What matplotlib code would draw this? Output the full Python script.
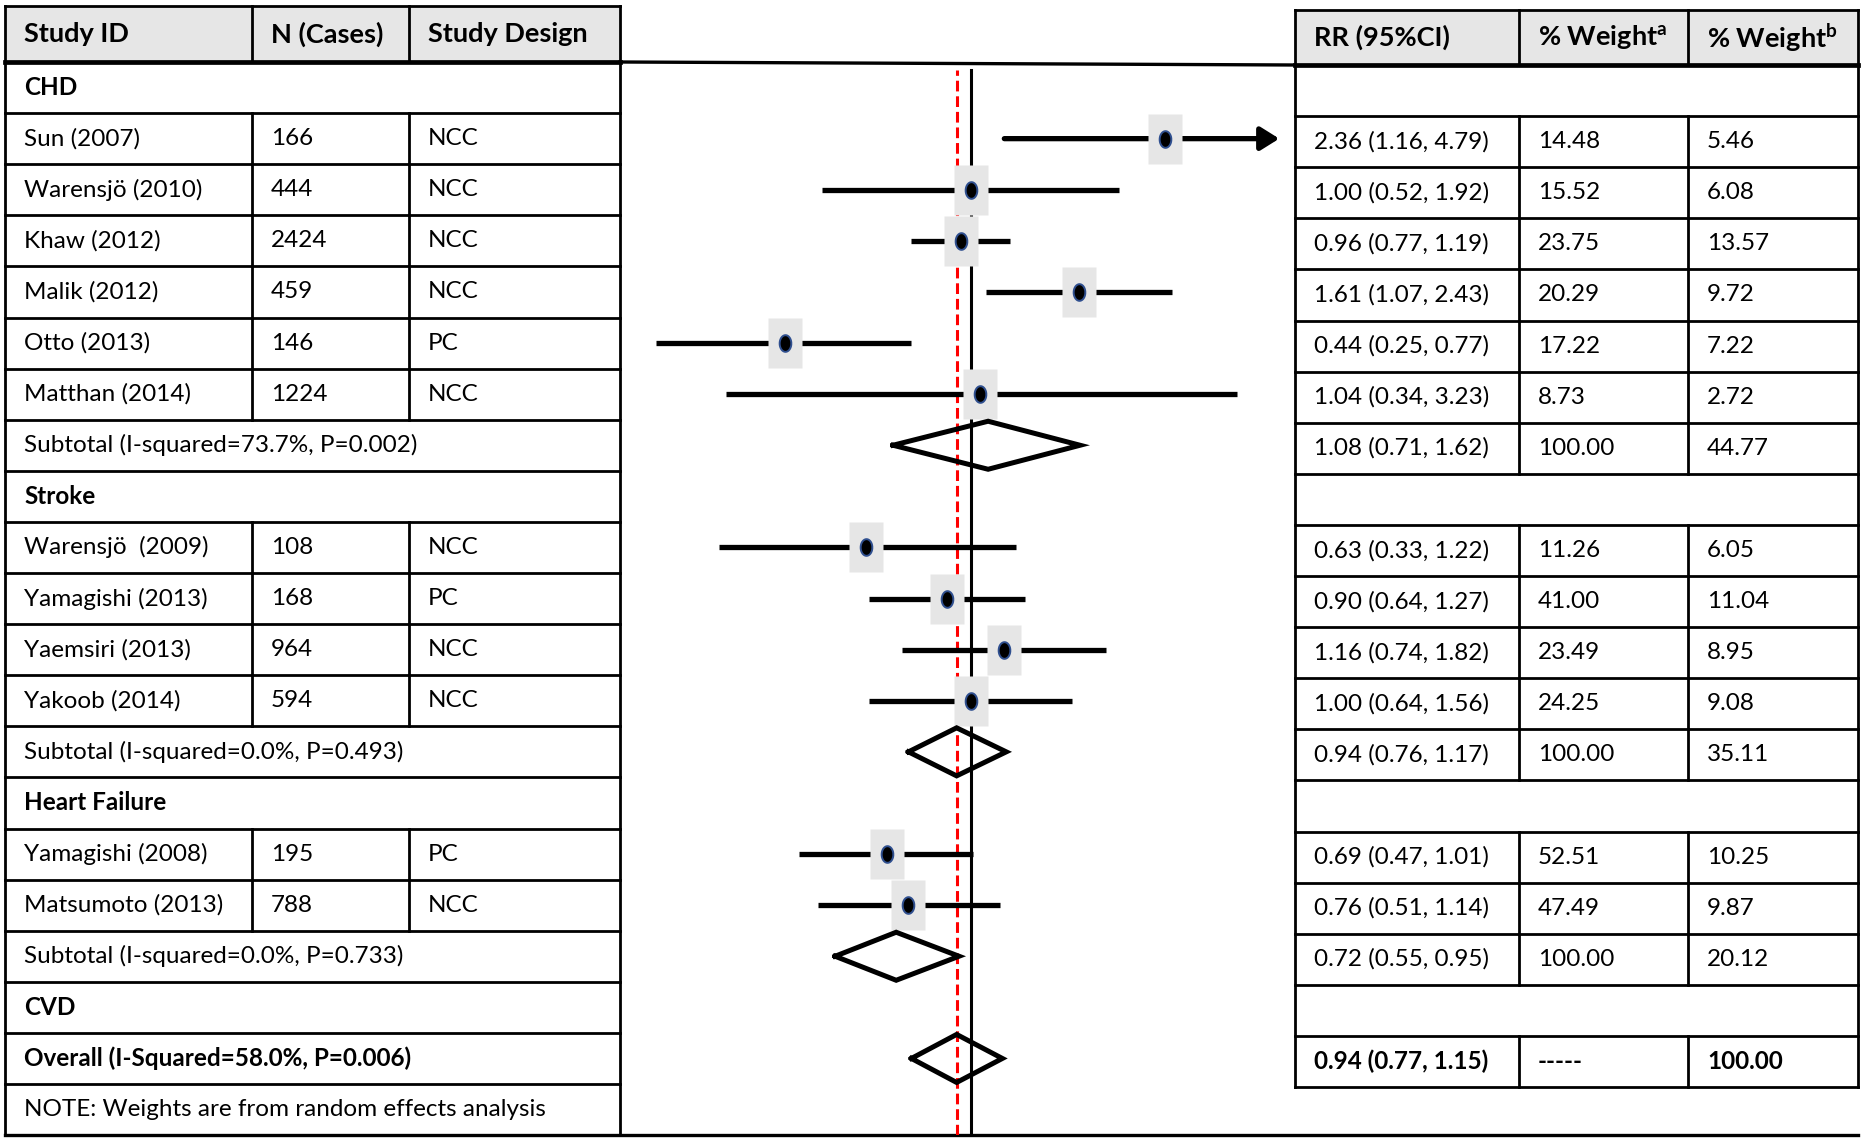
import numpy as np
import matplotlib.pyplot as plt
from matplotlib.patches import Rectangle

plt.rcParams['font.family'] = ['Lato', 'DejaVu Sans']
plt.rcParams['mathtext.fontset'] = 'custom'
plt.rcParams['mathtext.bf'] = 'Lato:bold'
plt.rcParams['mathtext.rm'] = 'Lato'

# ---- data ----
groups = ['CHD', 'Stroke', 'Heart Failure']
group_sizes = [6, 4, 2]

study_ids = ['Sun (2007)', 'Warensjö (2010)', 'Khaw (2012)', 'Malik (2012)',
             'Otto (2013)', 'Matthan (2014)',
             'Warensjö  (2009)', 'Yamagishi (2013)', 'Yaemsiri (2013)', 'Yakoob (2014)',
             'Yamagishi (2008)', 'Matsumoto (2013)']
n_cases = [166, 444, 2424, 459, 146, 1224, 108, 168, 964, 594, 195, 788]
designs = ['NCC', 'NCC', 'NCC', 'NCC', 'PC', 'NCC', 'NCC', 'PC', 'NCC', 'NCC', 'PC', 'NCC']
rr = [2.36, 1.00, 0.96, 1.61, 0.44, 1.04, 0.63, 0.90, 1.16, 1.00, 0.69, 0.76]
ci_lo = [1.16, 0.52, 0.77, 1.07, 0.25, 0.34, 0.33, 0.64, 0.74, 0.64, 0.47, 0.51]
ci_hi = [4.79, 1.92, 1.19, 2.43, 0.77, 3.23, 1.22, 1.27, 1.82, 1.56, 1.01, 1.14]
weight_a = [14.48, 15.52, 23.75, 20.29, 17.22, 8.73, 11.26, 41.00, 23.49, 24.25, 52.51, 47.49]
weight_b = [5.46, 6.08, 13.57, 9.72, 7.22, 2.72, 6.05, 11.04, 8.95, 9.08, 10.25, 9.87]

subtotal_labels = ['Subtotal (I-squared=73.7%, P=0.002)',
                   'Subtotal (I-squared=0.0%, P=0.493)',
                   'Subtotal (I-squared=0.0%, P=0.733)']
sub_rr = [1.08, 0.94, 0.72]
sub_lo = [0.71, 0.76, 0.55]
sub_hi = [1.62, 1.17, 0.95]
sub_weight_a = [100.00, 100.00, 100.00]
sub_weight_b = [44.77, 35.11, 20.12]

overall_group = 'CVD'
overall_label = 'Overall (I-Squared=58.0%, P=0.006)'
overall_rr, overall_lo, overall_hi = 0.94, 0.77, 1.15
overall_weight_a = '-----'
overall_weight_b = 100.00
note = 'NOTE: Weights are from random effects analysis'

left_headers = ['Study ID', 'N (Cases)', 'Study Design']
right_headers = ['RR (95%CI)', '% Weight$^{\\mathbf{a}}$', '% Weight$^{\\mathbf{b}}$']

# ---- layout (pixels) ----
W, H = 1865, 1139
LX = [5, 252, 409, 620]
L_TOP, L_HEAD = 6, 62
RX = [1295, 1519, 1688, 1858]
R_TOP, R_HEAD = 10, 65
ROW = 51.1
PAD = 19
FS = 17.5
FS_HEAD = 19.5
LW = 2.0
HEAD_FILL = '#e6e6e6'


def fmt_ci(e, l, h):
    return f'{e:.2f} ({l:.2f}, {h:.2f})'


# row order shared by both tables and the plot
rows = []
k = 0
for g, name in enumerate(groups):
    rows.append(('group', name))
    for _ in range(group_sizes[g]):
        rows.append(('study', k))
        k += 1
    rows.append(('subtotal', g))
rows.append(('group', overall_group))
rows.append(('overall', None))
left_rows = rows + [('note', None)]

fig = plt.figure(figsize=(W / 100, H / 100), dpi=100)
tab = fig.add_axes([0, 0, 1, 1])
tab.set_xlim(0, W)
tab.set_ylim(H, 0)
tab.axis('off')


def hline(x0, x1, y, w=LW):
    tab.plot([x0, x1], [y, y], color='black', lw=w, solid_capstyle='projecting')


def vline(x, y0, y1, w=LW):
    tab.plot([x, x], [y0, y1], color='black', lw=w, solid_capstyle='projecting')


def cell_text(x, y, s, bold=False, size=FS):
    tab.text(x, y, s, fontsize=size, va='center', ha='left',
             fontweight='bold' if bold else 'normal', color='black')


# ---- left table ----
L_BOT = L_HEAD + len(left_rows) * ROW
tab.add_patch(Rectangle((LX[0], L_TOP), LX[3] - LX[0], L_HEAD - L_TOP, color=HEAD_FILL, lw=0))
for c, h in enumerate(left_headers):
    cell_text(LX[c] + PAD, (L_TOP + L_HEAD) / 2, h, bold=True, size=FS_HEAD)
vline(LX[1], L_TOP, L_HEAD)
vline(LX[2], L_TOP, L_HEAD)

for i, (kind, p) in enumerate(left_rows):
    y0 = L_HEAD + i * ROW
    yc = y0 + ROW / 2
    if kind == 'group':
        cell_text(LX[0] + PAD, yc, p, bold=True)
    elif kind == 'study':
        cell_text(LX[0] + PAD, yc, study_ids[p])
        cell_text(LX[1] + PAD, yc, str(n_cases[p]))
        cell_text(LX[2] + PAD, yc, designs[p])
        vline(LX[1], y0, y0 + ROW)
        vline(LX[2], y0, y0 + ROW)
    elif kind == 'subtotal':
        cell_text(LX[0] + PAD, yc, subtotal_labels[p])
    elif kind == 'overall':
        cell_text(LX[0] + PAD, yc, overall_label, bold=True)
    else:
        cell_text(LX[0] + PAD, yc, note)
    hline(LX[0], LX[3], y0 + ROW)

hline(LX[0], LX[3], L_TOP)
vline(LX[0], L_TOP, L_BOT)
vline(LX[3], L_TOP, L_BOT)
hline(LX[0], LX[3], L_HEAD, w=3.4)

# ---- right table ----
R_BOT = R_HEAD + len(rows) * ROW
tab.add_patch(Rectangle((RX[0], R_TOP), RX[3] - RX[0], R_HEAD - R_TOP, color=HEAD_FILL, lw=0))
for c, h in enumerate(right_headers):
    cell_text(RX[c] + PAD, (R_TOP + R_HEAD) / 2, h, bold=True, size=FS_HEAD)
vline(RX[1], R_TOP, R_HEAD)
vline(RX[2], R_TOP, R_HEAD)

for i, (kind, p) in enumerate(rows):
    y0 = R_HEAD + i * ROW
    yc = y0 + ROW / 2
    vals = None
    bold = False
    if kind == 'study':
        vals = [fmt_ci(rr[p], ci_lo[p], ci_hi[p]), f'{weight_a[p]:.2f}', f'{weight_b[p]:.2f}']
    elif kind == 'subtotal':
        vals = [fmt_ci(sub_rr[p], sub_lo[p], sub_hi[p]), f'{sub_weight_a[p]:.2f}',
                f'{sub_weight_b[p]:.2f}']
    elif kind == 'overall':
        vals = [fmt_ci(overall_rr, overall_lo, overall_hi), overall_weight_a,
                f'{overall_weight_b:.2f}']
        bold = True
    if vals:
        for c, v in enumerate(vals):
            cell_text(RX[c] + PAD, yc, v, bold=bold)
        vline(RX[1], y0, y0 + ROW)
        vline(RX[2], y0, y0 + ROW)
    hline(RX[0], RX[3], y0 + ROW)

hline(RX[0], RX[3], R_TOP)
vline(RX[0], R_TOP, R_BOT)
vline(RX[3], R_TOP, R_BOT)
hline(RX[0], RX[3], R_HEAD, w=3.4)

# connector above the plot and the bottom rule
tab.plot([LX[3], RX[0]], [L_HEAD, R_HEAD], color='black', lw=2.4)
hline(LX[0], RX[3], L_BOT, w=2.4)

# ---- forest plot (log RR axis) ----
ax = fig.add_axes([LX[3] / W, 1 - L_BOT / H, (RX[0] - LX[3]) / W, (L_BOT - L_HEAD) / H])
ax.patch.set_visible(False)
ax.set_xscale('log')
ax.set_xlim(0.213, 4.18)
ax.set_ylim(len(left_rows) - 0.5, -0.5)
ax.axis('off')
arrow_cap = 3.9

ax.axvline(1.0, ymin=0, ymax=0.993, color='black', lw=2.2, zorder=1)
ax.axvline(overall_rr, ymin=0, ymax=0.993, color='red', lw=2.2,
           ls=(0, (3.5, 1.6)), zorder=1.5)

ys = [i for i, r in enumerate(rows) if r[0] == 'study']
for y, e, l, h in zip(ys, rr, ci_lo, ci_hi):
    if h > arrow_cap:
        ax.annotate('', xy=(arrow_cap, y), xytext=(l, y),
                    arrowprops=dict(arrowstyle='-|>,head_length=0.8,head_width=0.5',
                                    lw=3.8, color='black', shrinkA=0, shrinkB=0,
                                    mutation_scale=14), zorder=2)
    else:
        ax.plot([l, h], [y, y], color='black', lw=3.8, solid_capstyle='butt', zorder=2)

box = [(-0.33, -0.5), (0.33, -0.5), (0.33, 0.5), (-0.33, 0.5), (-0.33, -0.5)]
t = np.linspace(0, 2 * np.pi, 40)
dot = list(zip(0.35 * np.cos(t), 0.5 * np.sin(t)))
ax.plot(rr, ys, ls='none', marker=box, ms=36.5, mfc=HEAD_FILL, mec='none', zorder=3)
ax.plot(rr, ys, ls='none', marker=dot, ms=12, mfc='black', mec='#2f4f8f', mew=1.4, zorder=4)

# pooled estimates as diamonds
ys_sub = [i for i, r in enumerate(rows) if r[0] == 'subtotal']
ys_all = ys_sub + [i for i, r in enumerate(rows) if r[0] == 'overall']
d_est = sub_rr + [overall_rr]
d_lo = sub_lo + [overall_lo]
d_hi = sub_hi + [overall_hi]
hh = 0.47
for y, e, l, h in zip(ys_all, d_est, d_lo, d_hi):
    ax.plot([l, e, h, e, l], [y, y - hh, y, y + hh, y], color='black', lw=3.6,
            solid_joinstyle='miter', zorder=3)

fig.savefig('out.png', dpi=100)
